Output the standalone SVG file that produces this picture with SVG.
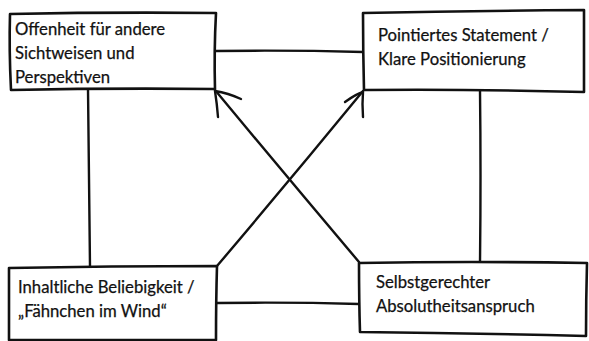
<svg xmlns="http://www.w3.org/2000/svg" width="589" height="341" viewBox="0 0 589 341">
<style>
.box{fill:#fff;stroke:#111;stroke-width:2.6;stroke-linejoin:round;stroke-linecap:round}
.ln{fill:none;stroke:#111;stroke-width:2.4;stroke-linecap:round;stroke-linejoin:round}
text{font-family:Lato,"Open Sans","DejaVu Sans",sans-serif;font-size:16.7px;fill:#111;stroke:#111;stroke-width:0.25}
</style>
<rect width="589" height="341" fill="#fff"/>
<g id="connectors">
<path class="ln" d="M215 51 Q290 50 363 52"/>
<path class="ln" d="M88 89 Q89 180 90 267"/>
<path class="ln" d="M480 90 Q481 176 480 262"/>
<path class="ln" d="M217 303 Q290 302 359 304"/>
<path class="ln" d="M217 266 Q290 180 363 91"/>
<path class="ln" d="M345 102 Q356 94 363 92 Q362 104 363 117"/>
<path class="ln" d="M359 262 Q288 178 215 90"/>
<path class="ln" d="M241 99 Q228 93 215 91 Q217 104 218 117"/>
</g>
<g id="n1">
<path class="box" d="M10 14 Q110 12 216 13 Q214 50 215 89 Q110 88 11 90 Q9 50 10 14 Z"/>
<text x="15" y="35">Offenheit für andere</text>
<text x="15" y="59">Sichtweisen und</text>
<text x="15" y="83">Perspektiven</text>
</g>
<g id="n2">
<path class="box" d="M363 13 Q470 11 584 10 Q584 50 584 92 Q470 89 364 90 Q363 50 363 13 Z"/>
<text x="378" y="41">Pointiertes Statement /</text>
<text x="378" y="65">Klare Positionierung</text>
</g>
<g id="n3">
<path class="box" d="M9 268 Q110 266 217 266 Q216 300 216 340 L9 340 Q9 300 9 268 Z"/>
<text x="18" y="293">Inhaltliche Beliebigkeit /</text>
<text x="18" y="317">„Fähnchen im Wind“</text>
</g>
<g id="n4">
<path class="box" d="M359 263 Q470 261 587 263 Q586 300 586 336 Q470 333 360 332 Q359 300 359 263 Z"/>
<text x="376" y="288">Selbstgerechter</text>
<text x="376" y="312">Absolutheitsanspruch</text>
</g>
</svg>
